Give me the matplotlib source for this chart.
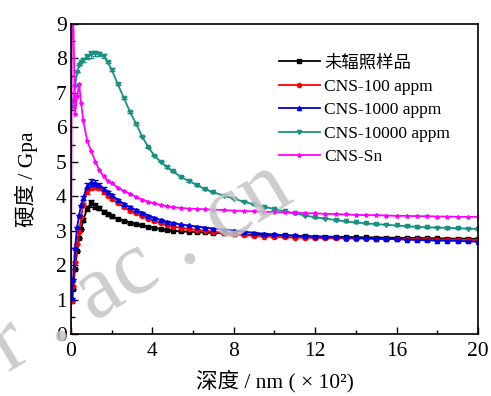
import numpy as np
import matplotlib
matplotlib.use("Agg")
import matplotlib.pyplot as pl
from matplotlib.ticker import MultipleLocator

pl.rcParams["font.family"] = ["Liberation Serif", "Noto Sans CJK SC", "DejaVu Sans"]

# depth in units of 100 nm
depth = [0.05, 0.1, 0.2, 0.3, 0.4, 0.5, 0.6, 0.8, 1.0, 1.2, 1.4, 1.6, 1.8, 2.0,
         2.3, 2.6, 2.9, 3.2, 3.5, 3.8, 4.1, 4.4, 4.7, 5.0, 5.4, 5.8, 6.2, 6.6, 7.0,
         7.5, 8.0, 8.5, 9.0, 9.5, 10.0, 10.5, 11.0, 11.5, 12.0, 12.5, 13.0, 13.5,
         14.0, 14.5, 15.0, 15.5, 16.0, 16.5, 17.0, 17.5, 18.0, 18.5, 19.0, 19.5, 20.0]
depth_sn = [0.0] + depth

# hardness, GPa
h_unirr = [0.95, 1.3, 1.9, 2.4, 2.8, 3.05, 3.3, 3.65, 3.8, 3.72, 3.65, 3.55, 3.48, 3.42,
           3.35, 3.28, 3.23, 3.19, 3.15, 3.12, 3.08, 3.05, 3.02, 3.0, 2.98, 2.97, 2.96, 2.95, 2.93,
           2.92, 2.9, 2.89, 2.88, 2.87, 2.86, 2.86, 2.85, 2.84, 2.83, 2.83, 2.82, 2.82,
           2.81, 2.81, 2.8, 2.8, 2.79, 2.79, 2.79, 2.78, 2.78, 2.77, 2.77, 2.77, 2.76]
h_100 = [0.95, 1.4, 2.1, 2.6, 2.95, 3.4, 3.75, 4.15, 4.27, 4.28, 4.25, 4.12, 4.02, 3.92,
         3.8, 3.68, 3.58, 3.5, 3.42, 3.35, 3.28, 3.22, 3.17, 3.12, 3.08, 3.05, 3.02, 3.0, 2.97,
         2.94, 2.9, 2.87, 2.85, 2.83, 2.82, 2.81, 2.8, 2.79, 2.79, 2.78, 2.78, 2.77,
         2.77, 2.77, 2.76, 2.76, 2.76, 2.75, 2.75, 2.75, 2.74, 2.74, 2.74, 2.73, 2.73]
h_1000 = [1.05, 1.6, 2.5, 3.1, 3.45, 3.75, 3.95, 4.3, 4.4, 4.38, 4.33, 4.22, 4.12, 4.03,
          3.9, 3.78, 3.68, 3.6, 3.52, 3.44, 3.37, 3.31, 3.26, 3.22, 3.18, 3.15, 3.12, 3.09, 3.06,
          3.03, 3.0, 2.97, 2.94, 2.91, 2.89, 2.87, 2.86, 2.84, 2.83, 2.82, 2.81, 2.8,
          2.79, 2.78, 2.77, 2.76, 2.75, 2.74, 2.73, 2.72, 2.71, 2.71, 2.7, 2.69, 2.68]
h_10000 = [6.6, 6.75, 7.2, 7.6, 7.8, 7.9, 7.95, 8.05, 8.12, 8.15, 8.13, 8.07, 7.9, 7.67,
           7.25, 6.85, 6.45, 6.1, 5.73, 5.42, 5.18, 5.0, 4.85, 4.72, 4.56, 4.44, 4.32, 4.2, 4.11,
           4.02, 3.93, 3.84, 3.76, 3.69, 3.63, 3.56, 3.5, 3.44, 3.39, 3.35, 3.31, 3.27,
           3.24, 3.21, 3.19, 3.17, 3.15, 3.13, 3.11, 3.1, 3.09, 3.08, 3.07, 3.06, 3.05]
h_sn = [0.0, 11.0, 9.5, 6.4, 6.9, 7.25, 6.7, 6.2, 5.6, 5.3, 5.0, 4.75, 4.58, 4.45, 4.38,
        4.25, 4.15, 4.07, 3.98, 3.9, 3.84, 3.79, 3.75, 3.71, 3.68, 3.66, 3.64, 3.63, 3.62, 3.61,
        3.6, 3.58, 3.57, 3.56, 3.55, 3.54, 3.53, 3.52, 3.51, 3.5, 3.49, 3.48, 3.47,
        3.46, 3.45, 3.45, 3.44, 3.43, 3.43, 3.42, 3.42, 3.41, 3.41, 3.4, 3.4, 3.4]

# scatter around the hardness peak (error bars)
err_peak = [0, 0, 0, 0, 0, 0, 0.06, 0.08, 0.1, 0.08, 0.06, 0.05, 0.04, 0.04,
            0.03, 0.03, 0.03, 0.02, 0.02, 0.02, 0.02, 0.02, 0.02, 0.02, 0.02, 0.02, 0.02, 0.02, 0.02,
            0.02, 0.02, 0.02, 0.02, 0.02, 0.02, 0.02, 0.02, 0.02, 0.02, 0.02, 0.02, 0.02,
            0.02, 0.02, 0.02, 0.02, 0.02, 0.02, 0.02, 0.02, 0.02, 0.02, 0.02, 0.02, 0.02]

series = [
    (depth, h_unirr, "未辐照样品", "black", "s"),
    (depth, h_100, "CNS-100 appm", "red", "o"),
    (depth, h_1000, "CNS-1000 appm", "#0000e0", "^"),
    (depth, h_10000, "CNS-10000 appm", "#1a9080", "v"),
    (depth_sn, h_sn, "CNS-Sn", "#ff00ff", "*"),
]

fontsize = 15.5
fig = pl.figure(figsize=(4.91, 3.96), dpi=100)
ax = fig.add_axes([0.1446, 0.1566, 0.8289, 0.7828])

# faint site watermark
fig.text(0.31, 0.275, "r . ac . cn", fontsize=66, color="#c4c4c4", alpha=0.85,
         rotation=31, rotation_mode="anchor", ha="center", va="baseline",
         family="Liberation Serif", zorder=0)

for x, y, label, color, marker in series:
    if len(x) == len(err_peak):
        ax.errorbar(x, y, yerr=err_peak, fmt="none", ecolor=color,
                    capsize=2, elinewidth=0.8)
    ax.plot(x, y, color=color, marker=marker, markersize=3, linewidth=1.3,
            label=label)

ax.set_xlim(0, 20)
ax.set_ylim(0, 9)
ax.xaxis.set_major_locator(MultipleLocator(4))
ax.xaxis.set_minor_locator(MultipleLocator(2))
ax.yaxis.set_major_locator(MultipleLocator(1))
ax.yaxis.set_minor_locator(MultipleLocator(0.5))
ax.tick_params(direction="in", which="major", length=5, width=1,
               labelsize=fontsize, pad=3)
ax.tick_params(axis="x", which="major", pad=6)
ax.tick_params(direction="in", which="minor", length=3, width=1)
for spine in ax.spines.values():
    spine.set_linewidth(1.2)
ax.patch.set_alpha(0)

ax.set_xlabel("深度 / nm ( × 10²)", size=fontsize, labelpad=6)
ax.set_ylabel("硬度 / Gpa", size=fontsize, labelpad=13)

ax.legend(loc="upper left", bbox_to_anchor=(0.511, 0.9), frameon=False,
          borderaxespad=0, borderpad=0, fontsize=12.5, handlelength=2.36,
          handletextpad=0.25, labelspacing=0.42)

fig.savefig("out.png", dpi=100)
